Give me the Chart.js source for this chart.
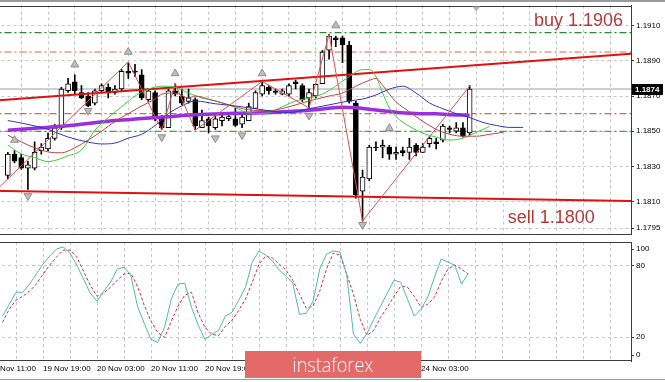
<!DOCTYPE html>
<html>
<head>
<meta charset="utf-8">
<title>EURUSD H1</title>
<script src="https://cdn.jsdelivr.net/npm/chart.js@4.4.1/dist/chart.umd.min.js"></script>
<style>
  html, body { margin: 0; padding: 0; background: #fff; }
  body { position: relative; width: 665px; height: 382px; overflow: hidden; }
  canvas { position: absolute; left: -16px; }
  #price { top: 0; }
  #stoch { top: 240px; }
  #topEdge { position: absolute; left: 0; top: 0; width: 665px; height: 2px; background: #9a9a9a; }
  #bottomEdge { position: absolute; left: 0; top: 379px; width: 665px; height: 1px; background: #a0a0a0; }
  #logo { position: absolute; left: 245px; top: 351px; width: 176px; height: 27px; background: #e46a6a;
          color: #fff; font: 300 21px "Open Sans", sans-serif; line-height: 27px; text-align: center; }
  #logo span { display: inline-block; transform: scaleX(0.86); }
</style>
</head>
<body>
<canvas id="price" width="681" height="240"></canvas>
<canvas id="stoch" width="681" height="142"></canvas>
<div id="topEdge"></div>
<div id="bottomEdge"></div>
<div id="logo"><span>instaforex</span></div>
<script>
// EURUSD H1, 19-24 Nov: candles + Alligator, MA, ZigZag, fractals; Stochastic below

const open = [1.1825, 1.1837, 1.1835, 1.1829, 1.1829, 1.1839, 1.1840, 1.1846, 1.1852, 1.1873,
    1.1878, 1.1872, 1.1870, 1.1866, 1.1873, 1.1875, 1.1872, 1.1874, 1.1884, 1.1884,
    1.1882, 1.1868, 1.1872, 1.1858, 1.1852, 1.1873, 1.1870, 1.1867, 1.1868, 1.1852,
    1.1857, 1.1852, 1.1856, 1.18572, 1.1857, 1.1854, 1.1856, 1.1863, 1.1871, 1.1875,
    1.1873, 1.1871, 1.1871, 1.1878, 1.1876, 1.1869, 1.1870, 1.1877, 1.1896, 1.1903,
    1.1903, 1.1899, 1.1866, 1.1816, 1.1823, 1.1841, 1.1841, 1.1841, 1.1837, 1.1839,
    1.1838, 1.1842, 1.1838, 1.1843, 1.1844, 1.1845, 1.1852, 1.1850, 1.1852, 1.1849];
const high = [1.1838, 1.1839, 1.1837, 1.1833, 1.1844, 1.1843, 1.1849, 1.1854, 1.1875, 1.1880,
    1.1882, 1.1876, 1.1872, 1.1874, 1.1877, 1.1877, 1.1876, 1.1885, 1.1889, 1.1888,
    1.1885, 1.1874, 1.1873, 1.1859, 1.1874, 1.1877, 1.1874, 1.1874, 1.1869, 1.1862,
    1.1858, 1.1859, 1.1859, 1.1860, 1.1863, 1.1860, 1.1866, 1.1873, 1.1878, 1.1876,
    1.1874, 1.1874, 1.1877, 1.1879, 1.1877, 1.1874, 1.1877, 1.1896, 1.1905, 1.1904,
    1.1904, 1.1901, 1.1867, 1.1828, 1.1842, 1.1844, 1.1845, 1.1842, 1.1841, 1.1841,
    1.1846, 1.1843, 1.1843, 1.1847, 1.1846, 1.1854, 1.1853, 1.1855, 1.1855, 1.1876];
const low = [1.1823, 1.1832, 1.18285, 1.1817, 1.1828, 1.1837, 1.1839, 1.1845, 1.1851, 1.1872,
    1.1871, 1.18685, 1.1864, 1.1865, 1.1872, 1.1869, 1.1871, 1.1873, 1.1880, 1.1881,
    1.1868, 1.1867, 1.1856, 1.1851, 1.1852, 1.1870, 1.1865, 1.1866, 1.1851, 1.1852,
    1.1849, 1.1851, 1.1853, 1.1856, 1.18528, 1.1852, 1.1856, 1.1863, 1.1870, 1.1871,
    1.1871, 1.18706, 1.1870, 1.1874, 1.1867, 1.1863, 1.1869, 1.1877, 1.1891, 1.1898,
    1.1889, 1.1866, 1.1812, 1.1799, 1.1822, 1.1839, 1.1835, 1.1834, 1.1834, 1.1836,
    1.1834, 1.1836, 1.18378, 1.1841, 1.1840, 1.1844, 1.1849, 1.1849, 1.18467, 1.1848];
const close = [1.1837, 1.1833, 1.1829, 1.1831, 1.1838, 1.1841, 1.1846, 1.1852, 1.1874, 1.1877,
    1.1873, 1.1869, 1.18645, 1.1873, 1.1876, 1.1872, 1.1874, 1.1884, 1.1883, 1.18835,
    1.1869, 1.1873, 1.1857, 1.1852, 1.1873, 1.1871, 1.1866, 1.1869, 1.1853, 1.1856,
    1.1853, 1.1857, 1.1858, 1.18583, 1.18533, 1.1858, 1.1864, 1.1872, 1.1876, 1.1873,
    1.1872, 1.1873, 1.1876, 1.1877, 1.1868, 1.1872, 1.18767, 1.1895, 1.1904, 1.1902,
    1.1899, 1.1867, 1.1814, 1.1824, 1.1841, 1.18405, 1.1842, 1.1837, 1.1838, 1.18378,
    1.1841, 1.1838, 1.1841, 1.1846, 1.1843, 1.1853, 1.1851, 1.1852, 1.18472, 1.1874];

// thick purple moving average
const maBars = [0, 4, 8, 12, 16, 20, 24, 28, 32, 36, 40, 44, 46, 48, 50, 52, 54, 56, 58, 60, 62, 64, 66, 68, 69];
const maValues = [1.18506, 1.18517, 1.18528, 1.18544, 1.18561, 1.18572, 1.18583, 1.18594, 1.18600, 1.18603,
    1.18608, 1.18617, 1.18622, 1.18631, 1.18636, 1.18633, 1.18625, 1.18617, 1.18608, 1.18603,
    1.18600, 1.18600, 1.18594, 1.18592, 1.18590];

// Alligator: jaw (blue), teeth (red), lips (green) - shifted past the last bar
const jawBars = [0, 3, 6, 9, 12, 14, 16, 18, 20, 22, 24, 26, 28, 31, 34, 37, 40, 42, 45, 48,
    51, 53, 55, 57, 59, 61, 63, 65, 67, 69, 71, 73, 75, 77];
const jawValues = [1.18561, 1.18539, 1.18511, 1.18467, 1.18439, 1.18428, 1.18433, 1.18461, 1.18483, 1.18533,
    1.18600, 1.18644, 1.18672, 1.18656, 1.18644, 1.18628, 1.18611, 1.18606, 1.18628, 1.18650,
    1.18672, 1.18683, 1.18706, 1.18739, 1.18756, 1.18717, 1.18661, 1.18628, 1.18600, 1.18578,
    1.18550, 1.18533, 1.18522, 1.18522];
const teethBars = [0, 3, 6, 8, 10, 12, 14, 16, 18, 20, 22, 23, 25, 27, 28, 30, 33, 36, 39, 42,
    45, 48, 50, 52, 54, 55, 56, 57, 58, 60, 62, 64, 66, 68, 70, 72, 74];
const teethValues = [1.18478, 1.18422, 1.18383, 1.18378, 1.18406, 1.18450, 1.18500, 1.18556, 1.18600, 1.18644,
    1.18683, 1.18711, 1.18717, 1.18689, 1.18700, 1.18683, 1.18650, 1.18622, 1.18617, 1.18639,
    1.18672, 1.18700, 1.18717, 1.18756, 1.18789, 1.18800, 1.18761, 1.18711, 1.18667, 1.18611,
    1.18556, 1.18511, 1.18483, 1.18472, 1.18472, 1.18483, 1.18494];
const lipsBars = [0, 2, 4, 6, 9, 11, 13, 15, 17, 19, 21, 23, 25, 27, 29, 31, 33, 35, 37, 39,
    41, 43, 45, 47, 49, 51, 53, 54, 55, 56, 57, 58, 60, 62, 64, 66, 68, 70, 72];
const lipsValues = [1.18422, 1.18372, 1.18350, 1.18328, 1.18361, 1.18394, 1.18506, 1.18578, 1.18639, 1.18700,
    1.18739, 1.18756, 1.18750, 1.18717, 1.18689, 1.18672, 1.18650, 1.18617, 1.18600, 1.18606,
    1.18639, 1.18672, 1.18689, 1.18711, 1.18756, 1.18811, 1.18850, 1.18850, 1.18811, 1.18717,
    1.18633, 1.18583, 1.18528, 1.18489, 1.18467, 1.18450, 1.18461, 1.18494, 1.18528];

// ZigZag pivots
const zigzagBars = [-3, 18, 23, 25, 28, 38, 45, 48, 53, 69];
const zigzagPrices = [1.18119, 1.18894, 1.18506, 1.18772, 1.18506, 1.18783, 1.18633, 1.19050, 1.17991, 1.18756];

// Bill Williams fractals (arrow positions)
const upFractalBars = [1, 10, 18, 25, 38, 49, 57];
const upFractalPrices = [1.18450, 1.18878, 1.18950, 1.18828, 1.18828, 1.19100, 1.18517];
const downFractalBars = [3, 12, 23, 31, 35, 45, 53];
const downFractalPrices = [1.18133, 1.18617, 1.18467, 1.18461, 1.18478, 1.18589, 1.17969];

// drawn levels and trend lines
const greenLevels = [1.1906, 1.1850];
const orangeLevels = [1.1895, 1.1860];
const upperTrendBars = [-3, 94];
const upperTrendPrices = [1.18671, 1.18942];
const lowerTrendBars = [-3, 94];
const lowerTrendPrices = [1.18163, 1.18104];
const lastPrice = 1.1874;
const buyLevel = 1.1906;
const sellLevel = 1.1800;
const shiftBar = 70;

const priceTicks = [1.1795, 1.1810, 1.1830, 1.1850, 1.1870, 1.1890, 1.1910];

// Stochastic %K / %D, one value per bar
const stochK = [37.6, 47.7, 57.8, 57.8, 64.6, 73.0, 81.4, 88.2, 94.1, 95.8,
    90.7, 80.6, 68.8, 57.0, 50.2, 58.6, 66.2, 77.2, 78.9, 72.2,
    46.0, 31.6, 18.1, 15.6, 28.3, 51.9, 64.6, 65.4, 45.1, 30.0,
    18.1, 22.4, 25.7, 37.6, 40.9, 51.1, 62.0, 83.1, 92.4, 89.0,
    84.0, 76.4, 71.3, 65.4, 39.2, 40.1, 50.2, 77.2, 89.9, 92.4,
    91.6, 72.2, 22.4, 14.8, 23.2, 35.0, 46.0, 57.0, 67.9, 66.2,
    51.9, 37.6, 43.5, 53.6, 70.5, 85.7, 83.1, 80.6, 64.6, 73.8];
const stochD = [32.5, 43.5, 51.1, 54.4, 58.6, 64.6, 73.0, 80.6, 87.3, 93.2,
    93.2, 87.3, 75.5, 63.7, 54.4, 57.0, 62.0, 67.9, 73.0, 73.8,
    62.9, 46.8, 33.3, 24.1, 19.8, 33.3, 46.0, 55.3, 57.8, 40.1,
    28.3, 22.4, 21.5, 29.1, 34.2, 42.6, 51.9, 66.2, 81.4, 88.2,
    86.5, 81.4, 76.4, 67.9, 56.1, 44.3, 46.0, 58.6, 77.2, 90.7,
    89.0, 73.0, 56.1, 35.0, 21.5, 25.7, 36.7, 45.1, 54.4, 62.9,
    62.0, 54.4, 45.1, 47.7, 53.6, 67.1, 77.2, 80.6, 77.2, 73.0];
const stochLevels = [0, 20, 80, 100];

const timeLabelBars = [-2, 6, 14, 22, 30, 38, 46, 54, 62];
const timeLabels = ['19 Nov 11:00', '19 Nov 19:00', '20 Nov 03:00', '20 Nov 11:00', '20 Nov 19:00',
    '23 Nov 03:00', '23 Nov 11:00', '23 Nov 19:00', '24 Nov 03:00'];

// ---- layout helpers ----
const X_MIN = -2.741, X_MAX = 93.11;
const gridBars = [];
for (let b = -2; b <= 92; b += 4) gridBars.push(b);

const tickFont = { family: '"Liberation Sans", Arial, sans-serif', size: 8 };
const gridColor = '#c6c6c6';
const frameColor = '#3c3c3c';

const pts = (xs, ys) => xs.map((x, i) => ({ x: x, y: ys[i] }));
const span = v => [{ x: X_MIN, y: v }, { x: X_MAX, y: v }];
const lineDs = (data, color, width, order, extra) => Object.assign({
    type: 'line', data: data, borderColor: color, borderWidth: width,
    pointRadius: 0, fill: false, order: order
}, extra || {});

const idx = open.map((_, i) => i);

const frame = {
    id: 'frame',
    afterDraw(chart) {
        const { ctx, chartArea: a } = chart;
        ctx.save();
        ctx.strokeStyle = frameColor;
        ctx.lineWidth = 1;
        ctx.beginPath();
        ctx.moveTo(a.left, Math.round(a.top) + 0.5);
        ctx.lineTo(a.right, Math.round(a.top) + 0.5);
        ctx.moveTo(a.left, Math.round(a.bottom) - 0.5);
        ctx.lineTo(a.right, Math.round(a.bottom) - 0.5);
        ctx.stroke();
        ctx.restore();
    }
};

const marks = {
    id: 'marks',
    afterDraw(chart) {
        const { ctx, chartArea: a, scales: { x, y } } = chart;
        ctx.save();
        ctx.fillStyle = '#b23a3a';
        ctx.font = '18px "Liberation Sans", Arial, sans-serif';
        ctx.textBaseline = 'alphabetic';
        ctx.fillText('buy ' + buyLevel.toFixed(4), x.getPixelForValue(78.6), y.getPixelForValue(1.19100));
        ctx.fillText('sell ' + sellLevel.toFixed(4), x.getPixelForValue(74.7), y.getPixelForValue(1.17982));

        // chart shift marker
        const sx = x.getPixelForValue(shiftBar);
        ctx.fillStyle = '#b4b4b4';
        ctx.beginPath();
        ctx.moveTo(sx - 4, a.top + 1);
        ctx.lineTo(sx + 4, a.top + 1);
        ctx.lineTo(sx, a.top + 6);
        ctx.closePath();
        ctx.fill();

        // last price tag on the axis
        const py = Math.round(y.getPixelForValue(lastPrice));
        ctx.fillStyle = '#000';
        ctx.fillRect(a.right + 1, py - 5, 31, 11);
        ctx.fillStyle = '#fff';
        ctx.font = 'bold 8px "Liberation Sans", Arial, sans-serif';
        ctx.textBaseline = 'middle';
        ctx.fillText(lastPrice.toFixed(4), a.right + 4, py + 1);
        ctx.restore();
    }
};

const xScaleBase = {
    type: 'linear', min: X_MIN, max: X_MAX, offset: false,
    afterBuildTicks: s => { s.ticks = gridBars.map(v => ({ value: v })); },
    grid: { color: gridColor, drawTicks: false, offset: false },
    border: { display: false, dash: [3, 3] }
};

new Chart(document.getElementById('price'), {
    type: 'line',
    data: {
        datasets: [
            lineDs(span(lastPrice), '#cfcfcf', 2, 20),
            ...greenLevels.map(v => lineDs(span(v), '#2a8a2a', 1.2, 19, { borderDash: [7, 3, 2, 3] })),
            ...orangeLevels.map(v => lineDs(span(v), '#e2643c', 1.2, 19, { borderDash: [7, 3, 2, 3] })),
            {
                type: 'bar', order: 15, grouped: false, barThickness: 1,
                data: idx.map(i => ({ x: i, y: [low[i], high[i]] })),
                backgroundColor: '#000'
            },
            {
                type: 'bar', order: 14, grouped: false, barThickness: 5, minBarLength: 1,
                data: idx.map(i => ({ x: i, y: [open[i], close[i]] })),
                backgroundColor: idx.map(i => close[i] >= open[i] ? '#fff' : '#000'),
                borderColor: '#000', borderWidth: 1, borderSkipped: false
            },
            lineDs(pts(upperTrendBars, upperTrendPrices), '#e01010', 2, 10),
            lineDs(pts(lowerTrendBars, lowerTrendPrices), '#e01010', 2, 10),
            lineDs(pts(maBars, maValues), '#9a2fe0', 3.5, 9, { cubicInterpolationMode: 'monotone' }),
            lineDs(pts(jawBars, jawValues), '#3434c4', 1, 8, { cubicInterpolationMode: 'monotone' }),
            lineDs(pts(teethBars, teethValues), '#c04646', 1, 8, { cubicInterpolationMode: 'monotone' }),
            lineDs(pts(lipsBars, lipsValues), '#3ccf3c', 1, 8, { cubicInterpolationMode: 'monotone' }),
            lineDs(pts(zigzagBars, zigzagPrices), '#dc5050', 1, 7),
            {
                type: 'line', order: 5, showLine: false,
                data: pts(upFractalBars, upFractalPrices),
                pointStyle: 'triangle', pointRadius: 4.5,
                pointBackgroundColor: '#bdbdbd', pointBorderColor: '#8e8e8e', pointBorderWidth: 1
            },
            {
                type: 'line', order: 5, showLine: false,
                data: pts(downFractalBars, downFractalPrices),
                pointStyle: 'triangle', pointRadius: 4.5, pointRotation: 180,
                pointBackgroundColor: '#bdbdbd', pointBorderColor: '#8e8e8e', pointBorderWidth: 1
            }
        ]
    },
    options: {
        responsive: false, animation: false, devicePixelRatio: 1,
        layout: { padding: { left: 0, right: 0, top: 3, bottom: 3 } },
        plugins: { legend: { display: false }, tooltip: { enabled: false } },
        scales: {
            x: Object.assign({}, xScaleBase, {
                ticks: { display: false },
                afterFit: s => { s.height = 0; s.paddingLeft = 0; s.paddingRight = 0; }
            }),
            y: {
                position: 'right', min: 1.17914, max: 1.19214,
                afterBuildTicks: s => { s.ticks = priceTicks.map(v => ({ value: v })); },
                ticks: { font: tickFont, color: '#000', padding: 2, callback: v => v.toFixed(4) },
                grid: { color: gridColor, tickLength: 3, tickColor: frameColor },
                border: { display: true, color: frameColor, dash: [3, 3] },
                afterFit: s => { s.width = 34; s.paddingTop = 0; s.paddingBottom = 0; }
            }
        }
    },
    plugins: [frame, marks]
});

new Chart(document.getElementById('stoch'), {
    type: 'line',
    data: {
        datasets: [
            lineDs(pts(idx, stochD), '#d43030', 1, 2, { borderDash: [3, 2] }),
            lineDs(pts(idx, stochK), '#52b9ae', 1, 1)
        ]
    },
    options: {
        responsive: false, animation: false, devicePixelRatio: 1,
        layout: { padding: { left: 0, right: 0, top: 2, bottom: 0 } },
        plugins: { legend: { display: false }, tooltip: { enabled: false } },
        scales: {
            x: Object.assign({}, xScaleBase, {
                ticks: {
                    display: true, align: 'start', maxRotation: 0, autoSkip: false, padding: 3,
                    font: tickFont, color: '#000',
                    callback: v => {
                        const k = timeLabelBars.indexOf(v);
                        return k >= 0 ? timeLabels[k] : '';
                    }
                },
                afterFit: s => { s.height = 21; s.paddingLeft = 0; s.paddingRight = 0; }
            }),
            y: {
                position: 'right', min: 0, max: 100,
                // 0 and 100 labels sit just inside the panel, as in the terminal
                afterBuildTicks: s => {
                    s.ticks = stochLevels.map(v => ({ value: v === 100 ? 94 : (v === 0 ? 5 : v), level: v }));
                },
                ticks: { font: tickFont, color: '#000', padding: 2, callback: (v, i, t) => String(t[i].level) },
                grid: {
                    color: c => (c.tick && (c.tick.level === 20 || c.tick.level === 80)) ? gridColor : 'rgba(0,0,0,0)',
                    tickLength: 3, tickColor: frameColor
                },
                border: { display: true, color: frameColor, dash: [3, 3] },
                afterFit: s => { s.width = 34; s.paddingTop = 0; s.paddingBottom = 0; }
            }
        }
    },
    plugins: [frame]
});
</script>
</body>
</html>
